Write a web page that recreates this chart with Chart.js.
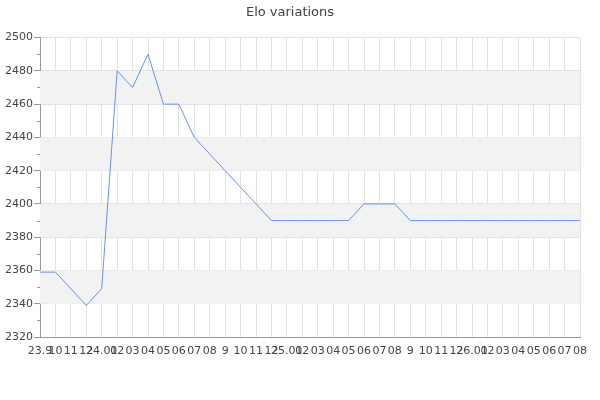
<!DOCTYPE html>
<html>
<head>
<meta charset="utf-8">
<script src="https://cdn.jsdelivr.net/npm/chart.js@4"></script>
<style>
  html, body { margin: 0; padding: 0; background: #fff; }
  #wrap { width: 600px; height: 400px; }
</style>
</head>
<body>
<div id="wrap"><canvas id="elo"></canvas></div>
<script>
// months shown on the x axis
const months = ['23.9', '10', '11', '12', '24.01', '02', '03', '04', '05', '06', '07', '08',
  '9', '10', '11', '12', '25.01', '02', '03', '04', '05', '06', '07', '08',
  '9', '10', '11', '12', '26.01', '02', '03', '04', '05', '06', '07', '08'];
// elo per month
const elo = [2359, 2359, 2349, 2339, 2349, 2480, 2470, 2490, 2460, 2460, 2440, 2430,
  2420, 2410, 2400, 2390, 2390, 2390, 2390, 2390, 2390, 2400, 2400, 2400,
  2390, 2390, 2390, 2390, 2390, 2390, 2390, 2390, 2390, 2390, 2390, 2390];
const yMin = 2320, yMax = 2500, yStep = 20;

Chart.defaults.font.family = "'DejaVu Sans', sans-serif";
Chart.defaults.color = '#444';

// grey bands every other step + small minor ticks on the y axis
const bands = {
  id: 'bands',
  beforeDatasetsDraw(chart) {
    const { ctx, chartArea: a, scales: { y } } = chart;
    ctx.save();
    ctx.fillStyle = '#f2f2f2';
    for (let v = yMin + yStep; v < yMax; v += 2 * yStep) {
      const top = y.getPixelForValue(v + yStep), bot = y.getPixelForValue(v);
      ctx.fillRect(a.left, top, a.right - a.left, bot - top);
    }
    ctx.restore();
  },
  afterDraw(chart) {
    const { ctx, chartArea: a, scales: { y } } = chart;
    ctx.save();
    ctx.strokeStyle = '#999';
    ctx.lineWidth = 1;
    ctx.beginPath();
    for (let v = yMin + yStep / 2; v < yMax; v += yStep) {
      const py = Math.round(y.getPixelForValue(v)) + 0.5;
      ctx.moveTo(a.left - 3, py);
      ctx.lineTo(a.left, py);
    }
    ctx.stroke();
    ctx.restore();
  }
};

new Chart(document.getElementById('elo'), {
  type: 'line',
  data: {
    labels: months,
    datasets: [{
      data: elo,
      borderColor: '#6495ed',
      borderWidth: 1,
      pointRadius: 0,
      tension: 0,
      fill: false,
    }],
  },
  options: {
    responsive: true,
    maintainAspectRatio: false,
    animation: false,
    layout: { padding: { left: 0, right: 20, top: 0, bottom: 37 } },
    plugins: {
      legend: { display: false },
      tooltip: { enabled: false },
      title: {
        display: true,
        text: 'Elo variations',
        color: '#444',
        font: { size: 13, weight: 'normal' },
        padding: { top: 5, bottom: 17 },
      },
    },
    scales: {
      x: {
        grid: { color: '#e2e2e2', drawTicks: false },
        border: { color: '#999' },
        ticks: { autoSkip: false, maxRotation: 0, padding: 8, font: { size: 11 } },
        afterFit(s) { s.height = 26; },
      },
      y: {
        min: yMin,
        max: yMax,
        grid: { color: '#e2e2e2', tickColor: '#999', tickLength: 6 },
        border: { color: '#999' },
        ticks: { stepSize: yStep, padding: 1, font: { size: 11 }, callback: v => String(v) },
        afterFit(s) { s.width = 40; },
      },
    },
  },
  plugins: [bands],
});
</script>
</body>
</html>
